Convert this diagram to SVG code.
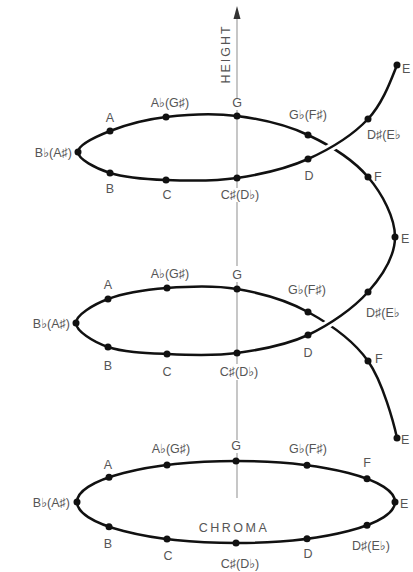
<svg xmlns="http://www.w3.org/2000/svg" width="413" height="572" viewBox="0 0 413 572">
<style>
.crv{fill:none;stroke:#111;stroke-width:2.5}
.gap{fill:none;stroke:#fff;stroke-width:8}
.ax{stroke:#999;stroke-width:1.1;fill:none}
.dot{fill:#111}
text{font-family:"Liberation Sans","DejaVu Sans",sans-serif;font-size:12.5px;fill:#555}
.m{text-anchor:middle}
.e{text-anchor:end}
</style>
<rect width="413" height="572" fill="#fff"/>
<g id="axis">
<path class="ax" d="M237,18 V98 M237,110 V188 M237,202 V266 M237,282 V364 M237,380 V440 M237,453 V498"/>
<path d="M237,6 L240.5,19 L233.5,19 Z" fill="#333"/>
<text transform="translate(230,54) rotate(-90)" class="m" letter-spacing="2">HEIGHT</text>
</g>
<g id="connectors">
<path class="crv" d="M397,65 C391,80 382.8,103.3 368,119 C353.2,134.7 329.8,149.2 308,159 C286.2,168.8 260.7,174.5 237,178 C213.3,181.5 187.2,180.8 166,180 C144.8,179.2 124.7,177.7 110,173 C95.3,168.3 78,159 78,152 C78,145 95.3,136.8 110,131 C124.7,125.2 144.8,119.5 166,117 C187.2,114.5 213.3,113 237,116 C260.7,119 286.2,124.8 308,135 C329.8,145.2 353.5,160 368,177 C382.5,194 395,217.8 395,237 C395,256.2 382.5,275.7 368,292 C353.5,308.3 329.8,324.8 308,335 C286.2,345.2 260.5,349.8 237,353 C213.5,356.2 188.5,355 167,354 C145.5,353 123.2,352.2 108,347 C92.8,341.8 76,331 76,323 C76,315 92.8,304.8 108,299 C123.2,293.2 145.5,289.7 167,288 C188.5,286.3 213.5,285 237,289 C260.5,293 286.2,300 308,312 C329.8,324 353.2,340 368,361 C382.8,382 394,424 397,438"/>
<path class="gap" d="M368,119 C353.2,134.7 329.8,149.2 308,159"/>
<path class="crv" d="M368,119 C353.2,134.7 329.8,149.2 308,159"/>
<path class="gap" d="M368,292 C353.5,308.3 329.8,324.8 308,335"/>
<path class="crv" d="M368,292 C353.5,308.3 329.8,324.8 308,335"/>
<ellipse class="crv" cx="236" cy="502" rx="159" ry="41"/>
</g>
<g id="helix-top">
<g id="t-E"><circle class="dot" cx="397" cy="65" r="3.5"/><text x="402" y="73">E</text></g>
<g id="t-Ds"><circle class="dot" cx="368" cy="119" r="3.5"/><text x="367" y="139">D♯(E♭</text></g>
<g id="t-D"><circle class="dot" cx="308" cy="159" r="3.5"/><text class="m" x="309" y="180">D</text></g>
<g id="t-Cs"><circle class="dot" cx="237" cy="178" r="3.5"/><text class="m" x="240" y="199">C♯(D♭)</text></g>
<g id="t-C"><circle class="dot" cx="166" cy="180" r="3.5"/><text class="m" x="167" y="199">C</text></g>
<g id="t-B"><circle class="dot" cx="110" cy="173" r="3.5"/><text class="m" x="110" y="193">B</text></g>
<g id="t-Bb"><circle class="dot" cx="78" cy="152" r="3.5"/><text class="e" x="72" y="157">B♭(A♯)</text></g>
<g id="t-A"><circle class="dot" cx="110" cy="131" r="3.5"/><text class="m" x="110" y="122">A</text></g>
<g id="t-Ab"><circle class="dot" cx="166" cy="117" r="3.5"/><text class="m" x="170" y="107">A♭(G♯)</text></g>
<g id="t-G"><circle class="dot" cx="237" cy="116" r="3.5"/><text class="m" x="237" y="107">G</text></g>
<g id="t-Gb"><circle class="dot" cx="308" cy="135" r="3.5"/><text class="m" x="308" y="119">G♭(F♯)</text></g>
<g id="t-F"><circle class="dot" cx="368" cy="177" r="3.5"/><text x="374" y="181">F</text></g>
</g>
<g id="helix-mid">
<g id="m-E"><circle class="dot" cx="395" cy="237" r="3.5"/><text x="401" y="243">E</text></g>
<g id="m-Ds"><circle class="dot" cx="368" cy="292" r="3.5"/><text x="366" y="317">D♯(E♭</text></g>
<g id="m-D"><circle class="dot" cx="308" cy="335" r="3.5"/><text class="m" x="308" y="357">D</text></g>
<g id="m-Cs"><circle class="dot" cx="237" cy="353" r="3.5"/><text class="m" x="239" y="376">C♯(D♭)</text></g>
<g id="m-C"><circle class="dot" cx="167" cy="354" r="3.5"/><text class="m" x="167" y="376">C</text></g>
<g id="m-B"><circle class="dot" cx="108" cy="347" r="3.5"/><text class="m" x="108" y="370">B</text></g>
<g id="m-Bb"><circle class="dot" cx="76" cy="323" r="3.5"/><text class="e" x="70" y="328">B♭(A♯)</text></g>
<g id="m-A"><circle class="dot" cx="108" cy="299" r="3.5"/><text class="m" x="108" y="289">A</text></g>
<g id="m-Ab"><circle class="dot" cx="167" cy="288" r="3.5"/><text class="m" x="170" y="278">A♭(G♯)</text></g>
<g id="m-G"><circle class="dot" cx="237" cy="289" r="3.5"/><text class="m" x="237" y="279">G</text></g>
<g id="m-Gb"><circle class="dot" cx="308" cy="312" r="3.5"/><text class="m" x="307" y="294">G♭(F♯)</text></g>
<g id="m-F"><circle class="dot" cx="368" cy="361" r="3.5"/><text x="375" y="363">F</text></g>
<g id="m-E2"><circle class="dot" cx="397" cy="438" r="3.5"/><text x="401" y="444">E</text></g>
</g>
<g id="chroma">
<g id="b-Bb"><circle class="dot" cx="77" cy="502" r="3.5"/><text class="e" x="70" y="507">B♭(A♯)</text></g>
<g id="b-A"><circle class="dot" cx="109" cy="477.3" r="3.5"/><text class="m" x="108" y="469">A</text></g>
<g id="b-Ab"><circle class="dot" cx="167" cy="465.1" r="3.5"/><text class="m" x="171" y="453">A♭(G♯)</text></g>
<g id="b-G"><circle class="dot" cx="236" cy="461" r="3.5"/><text class="m" x="236" y="450">G</text></g>
<g id="b-Gb"><circle class="dot" cx="307" cy="465.3" r="3.5"/><text class="m" x="308" y="453">G♭(F♯)</text></g>
<g id="b-F"><circle class="dot" cx="367" cy="478.8" r="3.5"/><text class="m" x="367" y="467">F</text></g>
<g id="b-E"><circle class="dot" cx="395" cy="502" r="3.5"/><text x="400" y="508">E</text></g>
<g id="b-Ds"><circle class="dot" cx="367" cy="525.2" r="3.5"/><text class="m" x="371" y="550">D♯(E♭)</text></g>
<g id="b-D"><circle class="dot" cx="307" cy="538.7" r="3.5"/><text class="m" x="308" y="558">D</text></g>
<g id="b-Cs"><circle class="dot" cx="236" cy="543" r="3.5"/><text class="m" x="240" y="568">C♯(D♭)</text></g>
<g id="b-C"><circle class="dot" cx="167" cy="538.9" r="3.5"/><text class="m" x="168" y="560">C</text></g>
<g id="b-B"><circle class="dot" cx="109" cy="526.7" r="3.5"/><text class="m" x="108" y="548">B</text></g>
<text class="m" x="234" y="532" letter-spacing="2.5">CHROMA</text>
</g>
</svg>
